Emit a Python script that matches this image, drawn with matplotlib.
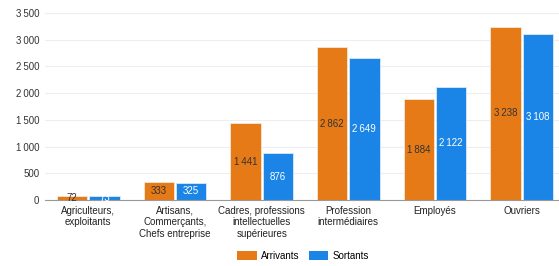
import numpy as np
import matplotlib
matplotlib.use("Agg")
import matplotlib.pyplot as plt
from matplotlib.patches import Patch

plt.rcParams["font.family"] = ["Liberation Sans", "DejaVu Sans"]

categories = [
    "Agriculteurs,\nexploitants",
    "Artisans,\nCommerçants,\nChefs entreprise",
    "Cadres, professions\nintellectuelles\nsupérieures",
    "Profession\nintermédiaires",
    "Employés",
    "Ouvriers",
]
arrivants = [72, 333, 1441, 2862, 1884, 3238]
sortants = [73, 325, 876, 2649, 2122, 3108]
yticks = [0, 500, 1000, 1500, 2000, 2500, 3000, 3500]

orange = "#e67a17"
blue = "#1a85e6"


def fr(v):
    return f"{v:,}".replace(",", "\u202f")


W, H = 559, 266
fig = plt.figure(figsize=(W / 100, H / 100), dpi=100)
ax = fig.add_axes([45 / W, 66 / H, 520 / W, 187 / H])

x = np.arange(len(categories))
bw = 0.35
b1 = ax.bar(x - bw / 2 - 0.01, arrivants, bw, color=orange, edgecolor="#f2e6da", linewidth=0.6)
b2 = ax.bar(x + bw / 2 + 0.01, sortants, bw, color=blue, edgecolor="#dde8f2", linewidth=0.6)

for rect, v in zip(b1, arrivants):
    ax.text(rect.get_x() + rect.get_width() / 2, v / 2, fr(v), ha="center", va="center",
            fontsize=7, color="#333333")
for rect, v in zip(b2, sortants):
    ax.text(rect.get_x() + rect.get_width() / 2, v / 2, fr(v), ha="center", va="center",
            fontsize=7, color="white")

ax.set_xlim(-0.5, 5.5)
ax.set_ylim(0, 3500)
ax.set_yticks(yticks)
ax.set_yticklabels([fr(t) for t in yticks], fontsize=7, color="#333333")
ax.set_xticks(x)
ax.set_xticklabels(categories, fontsize=7, color="#222222", linespacing=1.2)
ax.tick_params(axis="both", length=0, pad=4)
ax.yaxis.grid(True, color="#eeeeee", linewidth=0.8)
ax.set_axisbelow(True)
for s in ["top", "right", "left"]:
    ax.spines[s].set_visible(False)
ax.spines["bottom"].set_color("#999999")
ax.spines["bottom"].set_linewidth(0.8)

handles = [Patch(facecolor=orange, edgecolor="none", label="Arrivants"),
           Patch(facecolor=blue, edgecolor="none", label="Sortants")]
fig.legend(handles=handles, loc="center", bbox_to_anchor=(303 / W, 1 - 256 / H), ncol=2,
           frameon=False, fontsize=7, handlelength=2.0, handleheight=1.0,
           columnspacing=1.0, handletextpad=0.4)

fig.savefig("out.png", dpi=100)
